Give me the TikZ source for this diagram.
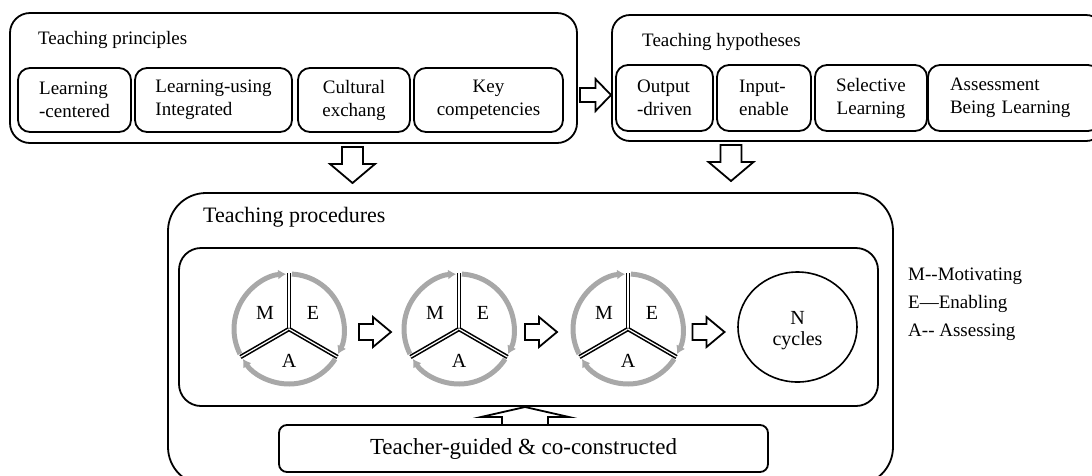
\documentclass[tikz,border=0pt]{standalone}
\usepackage{fontspec}
\newfontfamily\tnr{Liberation Serif}
\usetikzlibrary{arrows.meta,shapes.geometric}
\definecolor{ringgray}{RGB}{168,168,168}
\begin{document}
\begin{tikzpicture}[x=1pt,y=1pt,
  every node/.style={font=\tnr\fontsize{19}{23}\selectfont, inner sep=0pt},
  obox/.style={draw, line width=1.8pt, rounded corners=#1},
  ibox/.style={draw, line width=1.8pt, rounded corners=12pt, align=left, minimum height=#1},
  blk/.style={draw, line width=1.8pt, fill=white, line join=miter},
  ring/.style={line width=5pt, draw=ringgray, -{Latex[length=8pt,width=10pt]}},
  spoke/.style={line width=1.6pt, double=white, double distance=1.2pt},
  lmtext/.style={font=\tnr\fontsize{20}{24}\selectfont},
  rarrbig/.pic={\draw[blk] (-15.5,-7) -- (0,-7) -- (0,-16) -- (15.5,0) -- (0,16) -- (0,7) -- (-15.5,7) -- cycle;},
  rarr/.pic={\draw[blk] (-16,-8) -- (-2,-8) -- (-2,-15) -- (16,0) -- (-2,15) -- (-2,8) -- (-16,8) -- cycle;},
  darr/.pic={\draw[blk] (-10.5,18) -- (10.5,18) -- (10.5,1) -- (22.5,1) -- (0,-18) -- (-22.5,1) -- (-10.5,1) -- cycle;},
  mea/.pic={
    \draw[ring] (207:55) arc[start angle=207, end angle=93, radius=55];
    \draw[ring] (87:55) arc[start angle=87, end angle=-27, radius=55];
    \draw[ring] (-33:55) arc[start angle=-33, end angle=-147, radius=55];
    \draw[spoke] (0,0) -- (90:56);
    \draw[spoke] (0,0) -- (210:56);
    \draw[spoke] (0,0) -- (330:56);
    \node[lmtext] at (-24,16) {M};
    \node[lmtext] at (24,16) {E};
    \node[lmtext] at (0,-32) {A};
  }
]
\useasboundingbox (0,0) rectangle (1092,-475);

% Teaching principles
\node[obox=20pt, minimum width=567, minimum height=130] (prin) at (293.5,-78) {};
\node[anchor=west] (prinT) at (38,-40) {Teaching principles};
\node[ibox=64, minimum width=113] (p1) at (74.5,-100) {Learning\\-centered};
\node[ibox=64, minimum width=157] (p2) at (213.5,-100) {Learning-using\\Integrated};
\node[ibox=64, minimum width=112, align=center] (p3) at (354,-100) {Cultural\\exchang};
\node[ibox=64, minimum width=149, align=center] (p4) at (488.5,-100) {Key\\competencies};

% Teaching hypotheses
\node[obox=18pt, minimum width=492, minimum height=126] (hyp) at (858,-78) {};
\node[anchor=west] (hypT) at (642,-42) {Teaching hypotheses};
\node[ibox=66, minimum width=97] (h1) at (664.5,-98) {Output\\-driven};
\node[ibox=66, minimum width=94] (h2) at (764,-98) {Input-\\enable};
\node[ibox=66, minimum width=112, align=center] (h3) at (871,-98) {Selective\\Learning};
\node[ibox=66, minimum width=172, text width=128] (h4) at (1014,-98) {Assessment\\Being Learning};

% arrows between top boxes
\pic at (595.5,-95) {rarrbig};
\pic at (352.5,-165) {darr};
\pic at (731,-163) {darr};

% Teaching procedures
\node[obox=38pt, minimum width=725, minimum height=292] (proc) at (530.5,-339) {};
\node[anchor=west, font=\tnr\fontsize{22}{26}\selectfont] (procT) at (203,-217) {Teaching procedures};
\node[obox=22pt, minimum width=699, minimum height=158] (inner) at (528.5,-327) {};

\pic at (289,-329) {mea};
\pic at (459,-329) {mea};
\pic at (628,-329) {mea};
\pic at (375,-332) {rarr};
\pic at (541,-332) {rarr};
\pic at (708.5,-332) {rarr};

\node[draw, line width=1.6pt, ellipse, minimum width=119, minimum height=110] (ncyc) at (797.5,-327) {};
\node[lmtext] at (797.5,-318) {N};
\node[lmtext] at (797.5,-341) {cycles};

% teacher box and up arrow
\node[obox=8pt, minimum width=489, minimum height=47, font=\tnr\fontsize{23}{27}\selectfont] (teach) at (523.5,-448.5) {Teacher-guided \& co-constructed};
\draw[blk] (502,-425) -- (502,-417) -- (481,-417) -- (525,-407) -- (569,-417) -- (548,-417) -- (548,-425) -- cycle;

% legend
\node[anchor=west] (lm) at (908,-276) {M-{}-Motivating};
\node[anchor=west] (le) at (908,-304) {E—Enabling};
\node[anchor=west] (la) at (908,-332) {A-{}- Assessing};
\end{tikzpicture}
\end{document}
